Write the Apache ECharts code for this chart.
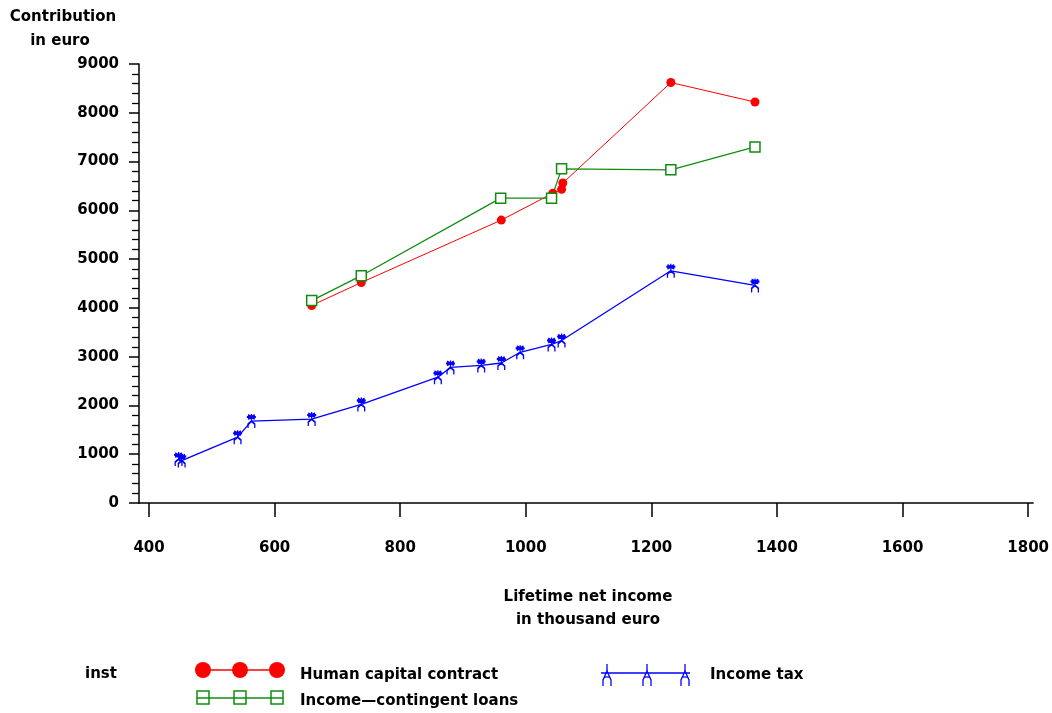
<!DOCTYPE html>
<html>
<head>
<meta charset="utf-8">
<script src="https://cdn.jsdelivr.net/npm/echarts@6/dist/echarts.min.js"></script>
<style>html,body{margin:0;padding:0;background:#fff;overflow:hidden;}#c{width:1052px;height:713px;}</style>
</head>
<body>
<div id="c"></div>
<script>
// ---- data ----
var xTicks = [400, 600, 800, 1000, 1200, 1400, 1600, 1800];
var hccX = [659, 738, 961, 1043, 1057, 1059, 1231, 1365];
var hccY = [4050, 4520, 5800, 6350, 6430, 6560, 8620, 8220];
var iclX = [659, 738, 960, 1041, 1057, 1231, 1365];
var iclY = [4150, 4660, 6250, 6250, 6850, 6830, 7300];
var taxX = [447, 452, 541, 563, 659, 738, 860, 880, 929, 961, 991, 1041, 1057, 1231, 1365];
var taxY = [900, 870, 1350, 1680, 1720, 2020, 2580, 2780, 2820, 2870, 3090, 3250, 3330, 4760, 4460];
var seriesNames = ['Human capital contract', 'Income\u2014contingent loans', 'Income tax'];

function zip(xs, ys) { return xs.map(function (x, i) { return [x, ys[i]]; }); }

var RED = '#ff0000', GREEN = '#118c11', BLUE = '#0000ff';
var FONT = 'DejaVu Sans';
var manPath = 'path://M5,0 L5,7 M1,3 L9,3 M2,1 L8,5 M8,1 L2,5 M5,7 L2,10 L2,14 M5,7 L8,10 L8,14';

var chart = echarts.init(document.getElementById('c'), null, {renderer: 'canvas', width: 1052, height: 713});
var txt = function (t, x, y, align) {
  return {type: 'text', x: x, y: y, style: {text: t, font: 'bold 15px "' + FONT + '"', fill: '#000', align: align || 'center', verticalAlign: 'middle'}};
};

// legend glyphs (decoration)
var legend = [];
legend.push(txt('inst', 85, 674, 'left'));
legend.push({type: 'line', shape: {x1: 199, y1: 670, x2: 281, y2: 670}, style: {stroke: RED, lineWidth: 1.5}});
[203, 240, 277].forEach(function (cx) {
  legend.push({type: 'circle', shape: {cx: cx, cy: 670, r: 8}, style: {fill: RED}});
});
legend.push(txt(seriesNames[0], 300, 675, 'left'));
legend.push({type: 'line', shape: {x1: 197, y1: 698, x2: 283, y2: 698}, style: {stroke: GREEN, lineWidth: 1.5}});
[203, 240, 277].forEach(function (cx) {
  legend.push({type: 'rect', shape: {x: cx - 6, y: 691, width: 12, height: 13}, style: {fill: 'none', stroke: GREEN, lineWidth: 1.5}});
});
legend.push(txt(seriesNames[1], 300, 701, 'left'));
legend.push({type: 'line', shape: {x1: 601, y1: 673, x2: 690, y2: 673}, style: {stroke: BLUE, lineWidth: 1.5}});
[607, 647, 685].forEach(function (cx) {
  legend.push({type: 'polyline', shape: {points: [[cx, 664], [cx, 671]]}, style: {stroke: BLUE, lineWidth: 1.3, fill: 'none'}});
  legend.push({type: 'polyline', shape: {points: [[cx - 4, 686], [cx - 4, 680], [cx, 671], [cx + 4, 680], [cx + 4, 686]]}, style: {stroke: BLUE, lineWidth: 1.3, fill: 'none'}});
  legend.push({type: 'line', shape: {x1: cx - 3, y1: 677, x2: cx + 3, y2: 677}, style: {stroke: BLUE, lineWidth: 1.3}});
});
legend.push(txt(seriesNames[2], 710, 675, 'left'));

var plain = function (v) { return String(v); };

var option = {
  animation: false,
  backgroundColor: '#fff',
  grid: {left: 139, top: 64, right: 5, bottom: 210, containLabel: false},
  xAxis: {
    type: 'value', min: 384, max: 1808,
    axisLine: {show: true, lineStyle: {color: '#000', width: 1.5}},
    axisTick: {show: true, length: 14, inside: false, customValues: xTicks, lineStyle: {color: '#000', width: 1.5}},
    axisLabel: {customValues: xTicks, formatter: plain, margin: 38, color: '#000', fontFamily: FONT, fontWeight: 'bold', fontSize: 15},
    splitLine: {show: false}
  },
  yAxis: {
    type: 'value', min: 0, max: 9000, interval: 1000,
    axisLine: {show: true, lineStyle: {color: '#000', width: 1.5}},
    axisTick: {show: true, length: 10, inside: false, lineStyle: {color: '#000', width: 1.5}},
    minorTick: {show: true, splitNumber: 5, length: 7, lineStyle: {color: '#000', width: 1.3}},
    axisLabel: {formatter: plain, margin: 20, color: '#000', fontFamily: FONT, fontWeight: 'bold', fontSize: 15},
    splitLine: {show: false}, minorSplitLine: {show: false}
  },
  series: [
    {name: seriesNames[0], type: 'line', data: zip(hccX, hccY), symbol: 'circle', symbolSize: 9,
     itemStyle: {color: RED}, lineStyle: {color: RED, width: 1}},
    {name: seriesNames[1], type: 'line', data: zip(iclX, iclY), symbol: 'rect', symbolSize: 10,
     itemStyle: {color: '#fff', borderColor: GREEN, borderWidth: 1.5}, lineStyle: {color: GREEN, width: 1.3}},
    {name: seriesNames[2], type: 'line', data: zip(taxX, taxY), symbol: manPath, symbolSize: [9, 14],
     itemStyle: {color: 'rgba(0,0,0,0)', borderColor: BLUE, borderWidth: 1.6}, lineStyle: {color: BLUE, width: 1.3}}
  ],
  graphic: [
    txt('Contribution', 63, 17),
    txt('in euro', 60, 41),
    txt('Lifetime net income', 588, 597),
    txt('in thousand euro', 588, 620)
  ].concat(legend)
};
chart.setOption(option);
</script>
</body>
</html>
